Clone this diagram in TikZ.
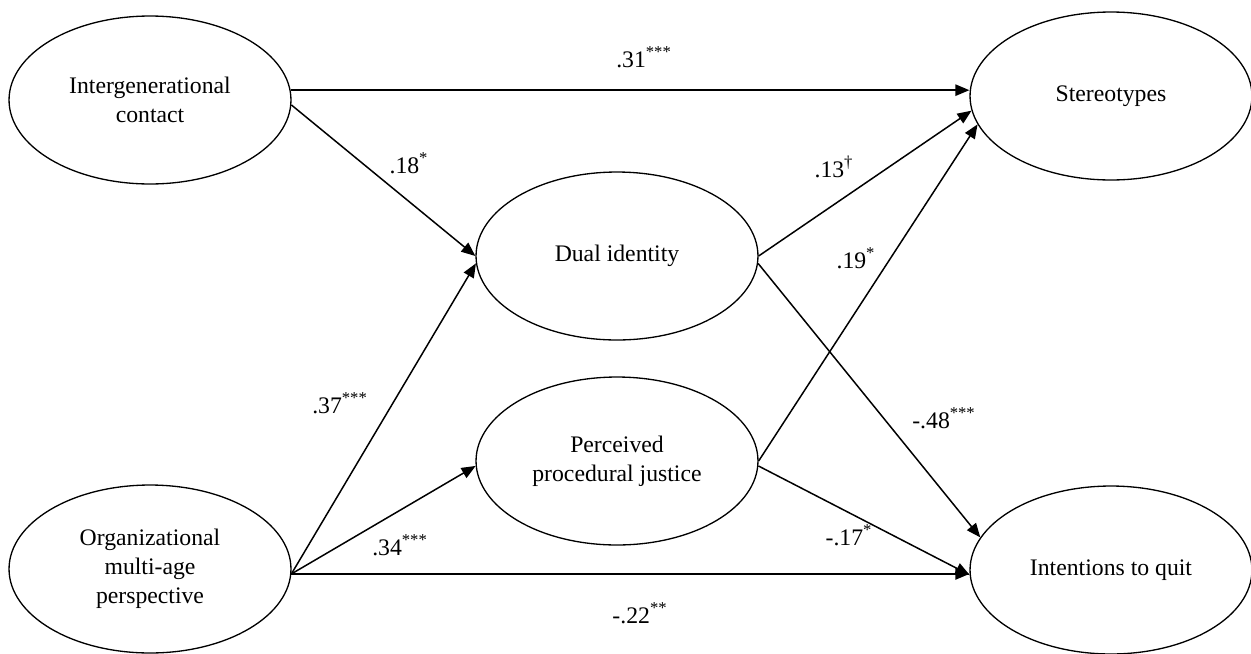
\documentclass[tikz,border=0pt]{standalone}
\usepackage{fontspec}
\setmainfont{Liberation Serif}
\usetikzlibrary{arrows.meta,shapes.geometric}
\tikzset{
  latent/.style={ellipse, draw=black, line width=0.75pt, minimum width=5.64cm,
                 minimum height=3.36cm, inner sep=0pt, align=center,
                 font=\fontsize{13.5}{16.5}\selectfont},
  effect/.style={-{Triangle[length=8pt,width=6.5pt]}, line width=0.85pt},
  coef/.style={font=\fontsize{13.5}{16.5}\selectfont, inner sep=0pt,
               anchor=base},
}

\begin{document}
\begin{tikzpicture}[x=0.02cm, y=-0.02cm]
\useasboundingbox (0,0) rectangle (1251,653);

% ------------------------- latent variables -----------------------------
\node[latent] at (150,100) (contact) {Intergenerational\\contact};
\node[latent] at (150,569) (multiage) {Organizational\\multi-age\\perspective};
\node[latent] at (617,256) (dual) {Dual identity};
\node[latent] at (617,461) (justice) {Perceived\\procedural justice};
\node[latent] at (1111,96) (stereo) {Stereotypes};
\node[latent] at (1111,570) (quit) {Intentions to quit};

% ------------------------- paths ----------------------------------------
\draw[effect] (contact.4) -- (contact.4 -| stereo.west);
\draw[effect] (contact.-2) -- (dual.180);
\draw[effect] (multiage.-2) -- (dual.-177);
\draw[effect] (multiage.-2) -- (justice.-178);
\draw[effect] (multiage.-2) -- (multiage.-2 -| quit.west);
\draw[effect] (dual.0) -- (stereo.186);
\draw[effect] (dual.-3) -- (quit.166);
\draw[effect] (justice.0) -- (stereo.192);
\draw[effect] (justice.-2) -- (quit.-178);

% ------------------------- coefficients ---------------------------------
\node[coef] at (644,67)  (c31) {.31\textsuperscript{***}};
\node[coef] at (409,173) (c18) {.18\textsuperscript{*}};
\node[coef] at (834,177) (c13) {.13\textsuperscript{\textdagger}};
\node[coef] at (856,268) (c19) {.19\textsuperscript{*}};
\node[coef] at (340,413) (c37) {.37\textsuperscript{***}};
\node[coef] at (944,428) (c48) {-.48\textsuperscript{***}};
\node[coef] at (400,555) (c34) {.34\textsuperscript{***}};
\node[coef] at (849,545) (c17) {-.17\textsuperscript{*}};
\node[coef] at (640,623) (c22) {-.22\textsuperscript{**}};
\end{tikzpicture}
\end{document}
